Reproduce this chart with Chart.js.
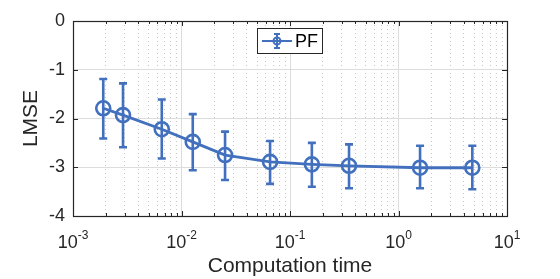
<!DOCTYPE html>
<html>
<head>
<meta charset="utf-8">
<script src="https://cdn.jsdelivr.net/npm/chart.js@4/dist/chart.umd.min.js"></script>
<style>
  body { margin: 0; background: #fff; }
</style>
</head>
<body>
<canvas id="c" width="560" height="279"></canvas>
<script>
// valores
const times   = [0.0019, 0.00289, 0.00658, 0.0127, 0.0252, 0.0655, 0.159, 0.350, 1.58, 4.79];
const lmse    = [-1.79, -1.93, -2.22, -2.48, -2.75, -2.89, -2.94, -2.97, -3.01, -3.01];
const errLow  = [-2.41, -2.59, -2.82, -3.06, -3.26, -3.34, -3.40, -3.43, -3.43, -3.45];
const errHigh = [-1.19, -1.28, -1.61, -1.91, -2.27, -2.46, -2.50, -2.53, -2.56, -2.56];
const xDecades = [-3, -2, -1, 0, 1];
const yTicks = [-4, -3, -2, -1, 0];

const blue = '#4270BE';
const dark = '#262626';
const font = '"Liberation Sans", Arial, Helvetica, sans-serif';

function isDecade(v){
    const l = Math.log10(v);
    return Math.abs(l - Math.round(l)) < 1e-6;
}

// barras de erro
const errorBars = {
    id: 'errorBars',
    afterDatasetsDraw(chart){
        const ctx = chart.ctx, xs = chart.scales.x, ys = chart.scales.y;
        ctx.save();
        ctx.strokeStyle = blue;
        ctx.lineWidth = 2.6;
        for(let i=0;i<times.length;i++){
            const px = xs.getPixelForValue(times[i]);
            const y1 = ys.getPixelForValue(errLow[i]);
            const y2 = ys.getPixelForValue(errHigh[i]);
            ctx.beginPath();
            ctx.moveTo(px, y1); ctx.lineTo(px, y2);
            ctx.moveTo(px-4, y1); ctx.lineTo(px+4, y1);
            ctx.moveTo(px-4, y2); ctx.lineTo(px+4, y2);
            ctx.stroke();
        }
        ctx.restore();
    }
};

// caixa, ticks internos, rótulos 10^n e legenda
const frame = {
    id: 'frame',
    afterDraw(chart){
        const ctx = chart.ctx, a = chart.chartArea, xs = chart.scales.x, ys = chart.scales.y;
        ctx.save();
        ctx.strokeStyle = dark;
        ctx.lineWidth = 1;
        ctx.beginPath();
        xs.ticks.forEach(t=>{
            const px = Math.round(xs.getPixelForValue(t.value)) + 0.5;
            const len = isDecade(t.value) ? 5 : 3;
            ctx.moveTo(px, a.bottom); ctx.lineTo(px, a.bottom-len);
            ctx.moveTo(px, a.top); ctx.lineTo(px, a.top+len);
        });
        yTicks.forEach(v=>{
            const py = Math.round(ys.getPixelForValue(v)) + 0.5;
            ctx.moveTo(a.left, py); ctx.lineTo(a.left+5, py);
            ctx.moveTo(a.right, py); ctx.lineTo(a.right-5, py);
        });
        ctx.stroke();
        ctx.lineWidth = 1.2;
        ctx.strokeRect(Math.round(a.left)+0.5, Math.round(a.top)+0.5, Math.round(a.right-a.left), Math.round(a.bottom-a.top));

        // rótulos do eixo x
        ctx.fillStyle = dark;
        ctx.textBaseline = 'alphabetic';
        xDecades.forEach(d=>{
            const px = xs.getPixelForValue(Math.pow(10, d));
            const base = '10', exp = String(d);
            ctx.font = '18px ' + font;
            const wb = ctx.measureText(base).width;
            ctx.font = '12px ' + font;
            const we = ctx.measureText(exp).width;
            const x0 = px - (wb + we)/2;
            ctx.font = '18px ' + font;
            ctx.textAlign = 'left';
            ctx.fillText(base, x0, 248);
            ctx.font = '12px ' + font;
            ctx.fillText(exp, x0 + wb, 239);
        });

        // legenda
        const lx = 257, ly = 28, lw = 65, lh = 25;
        ctx.fillStyle = '#fff';
        ctx.fillRect(lx, ly, lw, lh);
        ctx.strokeStyle = dark;
        ctx.lineWidth = 1;
        ctx.strokeRect(lx+0.5, ly+0.5, lw, lh);
        const cy = ly + lh/2 + 0.5, cx = 277;
        ctx.strokeStyle = blue;
        ctx.lineWidth = 2;
        ctx.beginPath();
        ctx.moveTo(262, cy); ctx.lineTo(292, cy);
        ctx.moveTo(cx, cy-7); ctx.lineTo(cx, cy+7);
        ctx.moveTo(cx-3, cy-7); ctx.lineTo(cx+3, cy-7);
        ctx.moveTo(cx-3, cy+7); ctx.lineTo(cx+3, cy+7);
        ctx.stroke();
        ctx.beginPath();
        ctx.arc(cx, cy, 3.5, 0, Math.PI*2);
        ctx.stroke();
        ctx.fillStyle = '#000';
        ctx.font = '18px ' + font;
        ctx.textBaseline = 'middle';
        ctx.fillText(chart.data.datasets[0].label, 295, cy+1);
        ctx.restore();
    }
};

const ctx = document.getElementById('c').getContext('2d');
const chart = new Chart(ctx, {
    type: 'line',
    data: {
        datasets: [{
            label: 'PF',
            data: times.map((t,i)=>({x: t, y: lmse[i]})),
            borderColor: blue,
            borderWidth: 2.8,
            pointStyle: 'circle',
            pointRadius: 7,
            pointBorderWidth: 2.6,
            pointBorderColor: blue,
            pointBackgroundColor: 'rgba(0,0,0,0)',
            fill: false,
            tension: 0
        }]
    },
    options: {
        responsive: false,
        animation: false,
        devicePixelRatio: 1,
        layout: { padding: { top: 21, right: 53, bottom: 0, left: 0 } },
        plugins: { legend: { display: false }, tooltip: { enabled: false } },
        scales: {
            x: {
                type: 'logarithmic',
                min: 1e-3, max: 10,
                afterBuildTicks(scale){
                    const list = [];
                    for(let d=-3; d<1; d++){
                        for(let k=1;k<10;k++) list.push({value: k*Math.pow(10,d)});
                    }
                    list.push({value: 10});
                    scale.ticks = list;
                },
                afterFit(scale){ scale.height = 63; },
                ticks: { display: false },
                grid: {
                    drawTicks: false,
                    lineWidth: 1,
                    color: c => (c.tick && isDecade(c.tick.value)) ? '#dcdcdc' : '#c9c9c9'
                },
                border: {
                    display: false,
                    dash: c => (c.tick && !isDecade(c.tick.value)) ? [1, 3] : []
                },
                title: {
                    display: true,
                    text: 'Computation time',
                    color: dark,
                    font: { family: font, size: 21 },
                    padding: { top: 0, bottom: 0 }
                }
            },
            y: {
                min: -4, max: 0,
                afterBuildTicks(scale){ scale.ticks = yTicks.map(v=>({value: v})); },
                afterFit(scale){ scale.width = 73; },
                ticks: {
                    color: dark,
                    padding: 8,
                    font: { family: font, size: 18 },
                    callback: v => String(v)
                },
                grid: { drawTicks: false, color: '#dcdcdc', lineWidth: 1 },
                border: { display: false },
                title: {
                    display: true,
                    text: 'LMSE',
                    color: dark,
                    font: { family: font, size: 21 },
                    padding: { top: 19, bottom: 0 }
                }
            }
        }
    },
    plugins: [errorBars, frame]
});
</script>
</body>
</html>
